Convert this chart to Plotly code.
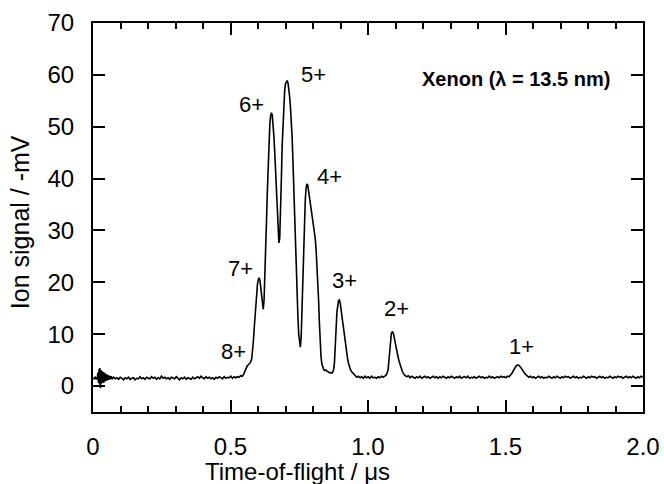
import plotly.graph_objects as go

# ---- data (time in microseconds, signal in -mV) ----
tof_burst = [0.000, 0.004, 0.008, 0.012, 0.016, 0.018, 0.020, 0.022, 0.024, 0.025, 0.027, 0.029,
             0.031, 0.033, 0.035, 0.037, 0.039, 0.041, 0.043, 0.045, 0.047, 0.049, 0.051, 0.054,
             0.057, 0.060, 0.063, 0.066, 0.070]
sig_burst = [1.6, 1.4, 1.7, 1.3, 1.8, 2.6, 0.6, 3.3, 0.3, 3.5, -0.4, 3.1,
             0.5, 2.9, 0.7, 2.7, 0.6, 2.6, 0.9, 2.4, 1.0, 2.3, 1.1, 2.1,
             1.2, 2.0, 1.3, 1.9, 1.4]

tof_base1 = [0.075, 0.081, 0.087, 0.093, 0.099, 0.105, 0.111, 0.117, 0.123, 0.129, 0.135, 0.141,
             0.147, 0.153, 0.159, 0.165, 0.171, 0.177, 0.183, 0.189, 0.195, 0.201, 0.207, 0.213,
             0.219, 0.225, 0.231, 0.237, 0.243, 0.249, 0.255, 0.261, 0.267, 0.273, 0.279, 0.285,
             0.291, 0.297, 0.303, 0.309, 0.315, 0.321, 0.327, 0.333, 0.339, 0.345, 0.351, 0.357,
             0.363, 0.369, 0.375, 0.381, 0.387, 0.393, 0.399, 0.405, 0.411, 0.417, 0.423, 0.429,
             0.435, 0.441, 0.447, 0.453, 0.459, 0.465, 0.471, 0.477, 0.483, 0.489, 0.495, 0.501,
             0.507, 0.513, 0.519, 0.525, 0.531, 0.537, 0.543]
sig_base1 = [1.7, 1.4, 1.6, 1.3, 1.7, 1.5, 1.2, 1.6, 1.4, 1.7, 1.3, 1.5,
             1.6, 1.2, 1.5, 1.4, 1.8, 1.4, 1.6, 1.3, 1.7, 1.5, 1.4, 1.8,
             1.5, 1.7, 1.3, 1.6, 1.4, 1.9, 1.5, 1.7, 1.4, 1.6, 1.3, 1.7,
             1.5, 1.4, 1.8, 1.5, 1.2, 1.6, 1.4, 1.7, 1.3, 1.6, 1.5, 1.3,
             1.7, 1.4, 1.6, 1.8, 1.5, 1.9, 1.6, 1.4, 1.8, 1.5, 1.7, 1.4,
             1.6, 1.3, 1.7, 1.5, 1.8, 1.6, 1.4, 1.8, 1.5, 1.7, 1.6, 1.9,
             1.5, 1.8, 1.6, 1.8, 1.7, 2.0, 1.9]

tof_peaks = [0.548, 0.553, 0.557, 0.561, 0.565, 0.569, 0.573, 0.577, 0.580, 0.583, 0.586, 0.589,
             0.592, 0.595, 0.598, 0.601, 0.604, 0.607, 0.610, 0.613, 0.616, 0.619, 0.622, 0.625,
             0.628, 0.631, 0.634, 0.637, 0.640, 0.643, 0.646, 0.649, 0.652, 0.655, 0.658, 0.661,
             0.664, 0.667, 0.670, 0.673, 0.676, 0.679, 0.682, 0.685, 0.688, 0.691, 0.694, 0.697,
             0.700, 0.703, 0.706, 0.709, 0.712, 0.715, 0.718, 0.721, 0.724, 0.727, 0.730, 0.733,
             0.736, 0.739, 0.742, 0.745, 0.748, 0.751, 0.754, 0.757, 0.760, 0.763, 0.766, 0.769,
             0.772, 0.775, 0.778, 0.781, 0.784, 0.787, 0.790, 0.793, 0.796, 0.799, 0.802, 0.805,
             0.808, 0.811, 0.814, 0.817, 0.820, 0.823, 0.826, 0.829, 0.832, 0.835, 0.839, 0.843,
             0.847, 0.851, 0.855, 0.859, 0.863, 0.867, 0.871, 0.875, 0.878, 0.881, 0.884, 0.887,
             0.890, 0.893, 0.896, 0.899, 0.902, 0.905, 0.908, 0.911, 0.914, 0.917, 0.920, 0.923,
             0.926, 0.929, 0.932, 0.936, 0.940, 0.944, 0.948]
sig_peaks = [2.3, 3.0, 3.6, 3.9, 4.1, 4.3, 4.6, 5.2, 6.5, 8.5, 11.0, 13.5,
             16.0, 18.0, 19.6, 20.5, 20.9, 20.4, 19.0, 17.0, 15.3, 14.8, 16.5, 20.5,
             26.0, 32.0, 37.5, 43.0, 47.5, 50.5, 52.2, 52.7, 52.2, 50.5, 48.0, 44.9,
             41.0, 36.5, 32.0, 29.0, 27.6, 28.5, 33.0, 40.0, 46.5, 51.3, 54.8, 57.0,
             58.3, 58.8, 58.9, 58.5, 57.5, 55.8, 53.8, 51.5, 48.0, 43.5, 38.0, 33.0,
             28.0, 23.0, 18.0, 13.5, 10.0, 8.0, 7.5, 9.5, 15.0, 21.5, 27.5, 32.5,
             36.0, 38.2, 39.0, 38.7, 37.8, 36.5, 35.3, 34.2, 33.2, 32.2, 31.2, 30.0,
             28.5, 26.5, 24.0, 21.0, 17.0, 12.5, 8.5, 5.8, 4.3, 3.6, 3.2, 3.0,
             3.1, 2.9, 2.7, 2.6, 2.6, 2.5, 2.6, 3.2, 4.5, 7.0, 11.0, 14.3,
             15.9, 16.5, 16.6, 16.0, 14.8, 13.5, 12.3, 11.2, 10.0, 8.8, 7.5, 6.2,
             5.2, 4.4, 3.8, 3.2, 2.8, 2.6, 2.3]

tof_base2 = [0.953, 0.959, 0.965, 0.971, 0.977, 0.983, 0.989, 0.995, 1.001, 1.007, 1.013, 1.019,
             1.025, 1.031, 1.037, 1.043, 1.049, 1.055, 1.061, 1.066, 1.069, 1.073, 1.077, 1.081,
             1.085, 1.090, 1.094, 1.098, 1.101, 1.105, 1.109, 1.113, 1.117, 1.121, 1.125, 1.129,
             1.133]
sig_base2 = [2.0, 1.7, 1.9, 1.6, 1.8, 1.5, 1.9, 1.6, 1.8, 1.5, 1.9, 1.6,
             1.7, 1.5, 1.8, 1.6, 1.9, 1.7, 1.9, 2.1, 2.5, 3.1, 5.5, 8.5,
             10.2, 10.5, 9.8, 8.6, 7.6, 6.6, 5.7, 4.8, 4.0, 3.3, 2.8, 2.4,
             2.1]

tof_base3 = [1.141, 1.147, 1.153, 1.159, 1.165, 1.171, 1.177, 1.183, 1.189, 1.195, 1.201, 1.207,
             1.213, 1.219, 1.225, 1.231, 1.237, 1.243, 1.249, 1.255, 1.261, 1.267, 1.273, 1.279,
             1.285, 1.291, 1.297, 1.303, 1.309, 1.315, 1.321, 1.327, 1.333, 1.339, 1.345, 1.351,
             1.357, 1.363, 1.369, 1.375, 1.381, 1.387, 1.393, 1.399, 1.405, 1.411, 1.417, 1.423,
             1.429, 1.435, 1.441, 1.447, 1.453, 1.459, 1.465, 1.471, 1.477, 1.483, 1.489, 1.495,
             1.501, 1.507, 1.513, 1.519, 1.524, 1.529, 1.534, 1.539, 1.544, 1.549, 1.554, 1.559,
             1.564, 1.569, 1.574, 1.579]
sig_base3 = [1.8, 2.0, 1.6, 1.9, 1.7, 1.5, 1.8, 1.6, 1.9, 1.5, 1.7, 1.9,
             1.6, 1.8, 1.5, 1.7, 1.9, 1.6, 1.8, 1.5, 1.8, 1.6, 1.9, 1.7,
             1.5, 1.8, 1.6, 1.9, 1.7, 1.5, 1.8, 1.6, 1.9, 1.5, 1.7, 1.8,
             1.6, 1.9, 1.5, 1.7, 1.6, 1.8, 1.5, 1.7, 1.9, 1.6, 1.8, 1.5,
             1.7, 1.6, 1.9, 1.6, 1.8, 1.5, 1.7, 1.8, 1.6, 1.9, 1.7, 1.8,
             1.6, 1.9, 1.8, 2.1, 2.5, 3.0, 3.5, 3.9, 4.1, 4.0, 3.7, 3.2,
             2.8, 2.5, 2.2, 2.0]

tof_base4 = [1.585, 1.591, 1.597, 1.603, 1.609, 1.615, 1.621, 1.627, 1.633, 1.639, 1.645, 1.651,
             1.657, 1.663, 1.669, 1.675, 1.681, 1.687, 1.693, 1.699, 1.705, 1.711, 1.717, 1.723,
             1.729, 1.735, 1.741, 1.747, 1.753, 1.759, 1.765, 1.771, 1.777, 1.783, 1.789, 1.795,
             1.801, 1.807, 1.813, 1.819, 1.825, 1.831, 1.837, 1.843, 1.849, 1.855, 1.861, 1.867,
             1.873, 1.879, 1.885, 1.891, 1.897, 1.903, 1.909, 1.915, 1.921, 1.927, 1.933, 1.939,
             1.945, 1.951, 1.957, 1.963, 1.969, 1.975, 1.981, 1.987, 1.993, 1.999]
sig_base4 = [1.7, 1.9, 1.6, 1.8, 1.5, 1.7, 1.9, 1.6, 1.8, 1.5, 1.7, 1.6,
             1.9, 1.7, 1.5, 1.8, 1.6, 1.9, 1.7, 1.5, 1.8, 1.6, 1.9, 1.7,
             1.8, 1.5, 1.7, 1.9, 1.6, 1.8, 1.5, 1.7, 1.6, 1.9, 1.7, 1.5,
             1.8, 1.6, 1.9, 1.7, 1.8, 1.5, 1.7, 1.9, 1.6, 1.8, 1.5, 1.7,
             1.6, 1.9, 1.7, 1.5, 1.8, 1.6, 1.9, 1.7, 1.8, 1.5, 1.7, 1.9,
             1.6, 1.8, 1.6, 1.9, 1.7, 1.5, 1.8, 1.6, 1.9, 1.7]

peak_labels = ["8+", "7+", "6+", "5+", "4+", "3+", "2+", "1+"]
label_x = [0.512, 0.537, 0.577, 0.800, 0.861, 0.916, 1.103, 1.557]
label_y = [6.6, 22.7, 54.2, 60.0, 40.4, 20.4, 15.0, 7.6]

x_tick_vals = [0, 0.5, 1.0, 1.5, 2.0]
x_tick_text = ["0", "0.5", "1.0", "1.5", "2.0"]

tof = tof_burst + tof_base1 + tof_peaks + tof_base2 + tof_base3 + tof_base4
sig = sig_burst + sig_base1 + sig_peaks + sig_base2 + sig_base3 + sig_base4

FONT = "Liberation Sans, Arial, sans-serif"

fig = go.Figure()
fig.add_trace(go.Scatter(x=tof, y=sig, mode="lines",
                         line=dict(color="black", width=1.6), showlegend=False))

for t, lx, ly in zip(peak_labels, label_x, label_y):
    fig.add_annotation(x=lx, y=ly, text=t, showarrow=False, xref="x", yref="y",
                       font=dict(family=FONT, size=22, color="black"))

fig.add_annotation(x=1.889, y=59.3, xref="x", yref="y", xanchor="right", yanchor="middle",
                   text="<b>Xenon (λ = 13.5 nm)</b>", showarrow=False,
                   font=dict(family=FONT, size=20, color="black"))

fig.add_annotation(x=0.3727, y=-0.152, xref="paper", yref="paper", xanchor="center",
                   yanchor="middle", text="Time-of-flight / μs", showarrow=False,
                   font=dict(family=FONT, size=24, color="black"))
fig.add_annotation(x=-0.1327, y=0.488, xref="paper", yref="paper", xanchor="center",
                   yanchor="middle", text="Ion signal / -mV", textangle=-90, showarrow=False,
                   font=dict(family=FONT, size=25, color="black"))

axis_common = dict(showline=True, linewidth=2, linecolor="black", mirror="ticks",
                   ticks="inside", ticklen=12, tickwidth=1.5, tickcolor="black",
                   showgrid=False, zeroline=False, automargin=False,
                   tickfont=dict(family=FONT, size=24, color="black"))

fig.update_xaxes(range=[0, 2.0], tickvals=x_tick_vals, ticktext=x_tick_text,
                 ticklabelstandoff=12,
                 minor=dict(dtick=0.1, tick0=0, ticks="inside", ticklen=6, tickwidth=1.5,
                            tickcolor="black", showgrid=False),
                 **axis_common)
fig.update_yaxes(range=[-5, 70], tick0=0, dtick=10, ticklabelstandoff=12, **axis_common)

fig.update_layout(width=664, height=484, margin=dict(l=93, r=21, t=23, b=72),
                  paper_bgcolor="white", plot_bgcolor="white",
                  font=dict(family=FONT, color="black"))

fig.write_html("out.html")
